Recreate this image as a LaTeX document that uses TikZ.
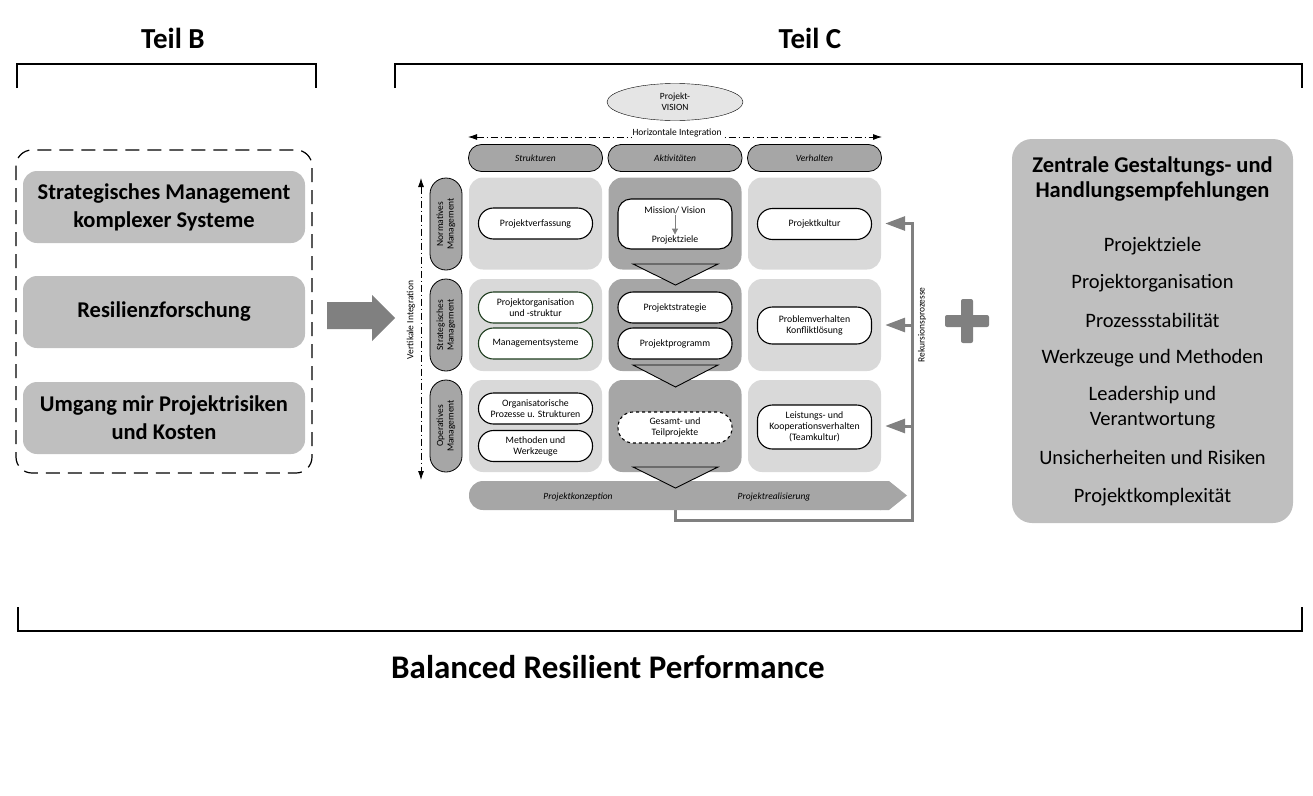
\documentclass[tikz,border=0pt]{standalone}
\usepackage{fontspec}
\setmainfont{Carlito}
\usetikzlibrary{arrows.meta,shapes.geometric}

\definecolor{boxgray}{RGB}{191,191,191}
\definecolor{celllight}{RGB}{217,217,217}
\definecolor{celldark}{RGB}{166,166,166}
\definecolor{arrowgray}{RGB}{128,128,128}
\definecolor{darkgreen}{RGB}{30,60,30}
\newcommand{\fsz}[2]{\fontsize{#1}{#2}\selectfont}

\tikzset{
  title/.style={font=\bfseries\fsz{29}{33}},
  bracket/.style={line width=1.3pt},
  leftbox/.style={rounded corners=14pt, fill=boxgray, minimum width=282pt,
    minimum height=72pt, align=center, font=\bfseries\fsz{22.5}{28}},
  hdr/.style={draw, rounded corners=13pt, fill=celldark, minimum width=134pt,
    minimum height=27pt, line width=0.8pt, font=\itshape\fsz{9.5}{11}},
  rowlbl/.style={draw, rounded corners=16pt, fill=celldark, rotate=90,
    minimum width=92pt, minimum height=32pt, line width=0.8pt, align=center,
    inner sep=1pt, font=\fsz{9.5}{10.5}},
  cell/.style={rounded corners=14pt, minimum width=133pt, minimum height=92pt},
  inbox/.style={draw, rounded corners=15pt, fill=white, line width=1.1pt,
    minimum width=114pt, minimum height=31pt, align=center, inner sep=1.5pt,
    font=\fsz{9.8}{11}},
  chevron/.style={draw, fill=celldark, line width=0.9pt},
  integ/.style={line width=0.8pt, dash pattern=on 7pt off 3pt on 1pt off 3pt,
    {Latex[length=9pt,width=6pt]}-{Latex[length=9pt,width=6pt]}},
  rekarrow/.style={arrowgray, line width=3pt,
    -{Triangle[length=20pt,width=14pt]}},
  item/.style={font=\fsz{20.5}{25}, align=center},
}

\begin{document}
\begin{tikzpicture}[x=1pt, y=-1pt]
  \useasboundingbox (0,0) rectangle (1313,795);

  % Teil B
  \node[title] (teilB) at (173,38) {Teil B};
  \draw[bracket] (17,88) -- (17,64) -- (316,64) -- (316,88);
  \draw[line width=1.2pt, dash pattern=on 14pt off 8pt, rounded corners=16pt]
    (16,150) rectangle (312,473);
  \node[leftbox] (smks) at (164,207) {Strategisches Management\\komplexer Systeme};
  \node[leftbox] (resil) at (164,312) {Resilienzforschung};
  \node[leftbox] (umgang) at (164,418) {Umgang mir Projektrisiken\\und Kosten};
  \fill[arrowgray] (327,302) -- (372,302) -- (372,295) -- (395,318)
    -- (372,341) -- (372,329) -- (327,329) -- cycle;

  % Teil C
  \node[title] (teilC) at (810,38) {Teil C};
  \draw[bracket] (395,88) -- (395,64) -- (1302,64) -- (1302,88);
  \node[ellipse, draw, fill=black!10, minimum width=136pt, minimum height=37pt,
    align=center, inner sep=0pt, font=\fsz{9.5}{11}] (vision) at (675,102)
    {Projekt-\\VISION};
  \coordinate (hl) at (468,137);
  \coordinate (hr) at (882,137);
  \draw[integ] (hl) -- (hr);
  \node[fill=white, inner sep=1pt, font=\fsz{9.5}{11}] (hlbl) at (677,133)
    {Horizontale Integration};
  \coordinate (vt) at (421,178);
  \coordinate (vb) at (421,480);
  \draw[integ] (vt) -- (vb);
  \node[rotate=90, inner sep=1pt, font=\fsz{9.5}{11}] (vlbl) at (411,320)
    {Vertikale Integration};

  \foreach \x/\nm/\t in {535.5/hS/Strukturen, 675/hA/Aktivitäten, 814.5/hV/Verhalten}
    \node[hdr] (\nm) at (\x,158) {\t};

  \foreach \y/\r in {223.5/1, 325/2, 426/3} {
    \node[cell, fill=celllight] (cS\r) at (535.5,\y) {};
    \node[cell, fill=celldark] (cA\r) at (675,\y) {};
    \node[cell, fill=celllight] (cV\r) at (814.5,\y) {};
  }
  \node[rowlbl] (rN) at (446,224) {Normatives\\Management};
  \node[rowlbl] (rS) at (446,325) {Strategisches\\Management};
  \node[rowlbl] (rO) at (446,426) {Operatives\\Management};

  % Rekursion
  \coordinate (apex3) at (675.5,488);
  \coordinate (rk1) at (912,520);
  \draw[rekarrow] (apex3) |- (rk1) -- (rk1 |- cV1.east) -- ([xshift=4pt]cV1.east);
  \draw[rekarrow] (rk1 |- cV2.east) -- ([xshift=4pt]cV2.east);
  \draw[rekarrow] (rk1 |- cV3.east) -- ([xshift=4pt]cV3.east);
  \node[rotate=90, font=\fsz{9.5}{11}] (rklbl) at (922,325) {Rekursionsprozesse};

  % Projektverlauf
  \fill[celldark, rounded corners=14pt] (469,481) rectangle (895,510);
  \fill[celldark] (880,481) -- (889,481) -- (907,495.5) -- (889,510) -- (880,510) -- cycle;
  \node[font=\itshape\fsz{9.5}{11}] (konz) at (578,497) {Projektkonzeption};
  \node[font=\itshape\fsz{9.5}{11}] (real) at (774,497) {Projektrealisierung};

  \draw[chevron] (633,264) -- (718,264) -- (675.5,285) -- cycle;
  \draw[chevron] (633,365) -- (718,365) -- (675.5,387) -- cycle;
  \draw[chevron] (633,467) -- (718,467) -- (apex3) -- cycle;

  % Inhalte
  \node[inbox] (pverf) at (535.5,223.5) {Projektverfassung};
  \node[inbox, minimum height=50pt, rounded corners=13pt] (mission) at (675,224) {};
  \node[inner sep=1pt, font=\fsz{9.8}{11}] (mv) at (675,210) {Mission/ Vision};
  \node[inner sep=1pt, font=\fsz{9.8}{11}] (pz) at (675,240) {Projektziele};
  \draw[arrowgray, line width=1pt, -{Triangle[length=6pt,width=6pt]}] (mv) -- (pz);
  \node[inbox] (pkult) at (814.5,224) {Projektkultur};

  \node[inbox, draw=darkgreen] (porg) at (535.5,307.5) {Projektorganisation\\und -struktur};
  \node[inbox, draw=darkgreen] (msys) at (535.5,343.5) {Managementsysteme};
  \node[inbox] (pstrat) at (675,307.5) {Projektstrategie};
  \node[inbox] (pprog) at (675,343.5) {Projektprogramm};
  \node[inbox, minimum height=37pt] (pkonf) at (814.5,325.5) {Problemverhalten\\Konfliktlösung};

  \node[inbox] (orgp) at (535.5,408.5) {Organisatorische\\Prozesse u. Strukturen};
  \node[inbox] (meth) at (535.5,446) {Methoden und\\Werkzeuge};
  \node[inbox, dashed] (gesamt) at (675,427.5) {Gesamt- und\\Teilprojekte};
  \node[inbox, minimum height=44pt] (leist) at (814.5,427)
    {Leistungs- und\\Kooperationsverhalten\\(Teamkultur)};

  % Plus
  \fill[arrowgray, rounded corners=2pt] (945,315) rectangle (989,327);
  \fill[arrowgray, rounded corners=2pt] (961,299) rectangle (973,343);

  % Empfehlungen
  \node[fill=boxgray, rounded corners=20pt, minimum width=281pt,
    minimum height=384pt] (zgh) at (1152.5,331) {};
  \node[align=center, font=\bfseries\fsz{22.5}{25}] (zghT) at (1152.5,179)
    {Zentrale Gestaltungs- und\\Handlungsempfehlungen};
  \foreach \y/\t [count=\i] in {246/Projektziele, 283/Projektorganisation,
      320/Prozessstabilität, 358/Werkzeuge und Methoden,
      407.5/{Leadership und\\Verantwortung}, 457/Unsicherheiten und Risiken,
      497/Projektkomplexität}
    \node[item] (emp\i) at (1152.5,\y) {\t};

  % Ergebnis
  \draw[bracket] (18,607) -- (18,631) -- (1302,631) -- (1302,607);
  \node[font=\bfseries\fsz{33}{37}] (brp) at (608,667) {Balanced Resilient Performance};
\end{tikzpicture}
\end{document}
